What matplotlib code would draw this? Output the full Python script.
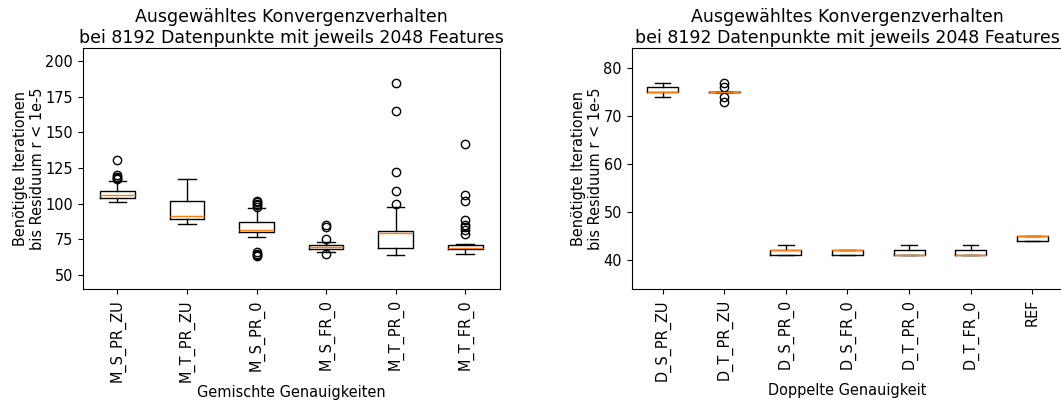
import matplotlib
matplotlib.use("Agg")
import matplotlib.pyplot as plt

plt.rcParams["font.size"] = 10.45

# Gemischte Genauigkeiten
labels_gemischt = ["M_S_PR_ZU", "M_T_PR_ZU", "M_S_PR_0", "M_S_FR_0", "M_T_PR_0", "M_T_FR_0"]
whislo_gemischt = [101, 86, 77, 66, 64, 65]
q1_gemischt = [104, 89, 80, 68.5, 68.7, 68]
med_gemischt = [106, 91.6, 81.8, 70, 79.2, 68.7]
q3_gemischt = [109, 102, 87, 71, 81, 71]
whishi_gemischt = [116, 117, 97, 73, 98, 72]
fliers_gemischt = [
    [117, 118, 119, 120, 131],
    [],
    [98, 99, 100, 101, 102, 63, 64, 65, 66],
    [75, 84, 85, 65],
    [100, 109, 122, 165, 185],
    [79, 81.5, 84, 85, 88.5, 102, 106, 142],
]

# Doppelte Genauigkeit
labels_doppelt = ["D_S_PR_ZU", "D_T_PR_ZU", "D_S_PR_0", "D_S_FR_0", "D_T_PR_0", "D_T_FR_0", "REF"]
whislo_doppelt = [74, 75, 41, 41, 41, 41, 44]
q1_doppelt = [75, 75, 41, 41, 41, 41, 44]
med_doppelt = [75, 75, 42, 42, 41, 41, 45]
q3_doppelt = [76, 75, 42, 42, 42, 42, 45]
whishi_doppelt = [77, 75, 43, 42, 43, 43, 45]
fliers_doppelt = [[], [73, 74, 76, 77], [], [], [], [], []]

TITEL = "Ausgewähltes Konvergenzverhalten\nbei 8192 Datenpunkte mit jeweils 2048 Features"
YLABEL = "Benötigte Iterationen\nbis Residuum r < 1e-5"


def stats(labels, lo, q1, med, q3, hi, fl):
    return [
        {"label": l, "whislo": a, "q1": b, "med": c, "q3": d, "whishi": e, "fliers": f}
        for l, a, b, c, d, e, f in zip(labels, lo, q1, med, q3, hi, fl)
    ]


fig = plt.figure(figsize=(10.61, 4.01), dpi=100)
ax1 = fig.add_axes([0.0779, 0.2786, 0.3933, 0.601])
ax2 = fig.add_axes([0.5954, 0.2786, 0.4067, 0.601])

ax1.bxp(stats(labels_gemischt, whislo_gemischt, q1_gemischt, med_gemischt,
              q3_gemischt, whishi_gemischt, fliers_gemischt))
ax1.set_ylim(40, 209)
ax1.set_title(TITEL, fontsize=12.55, pad=4)
ax1.set_ylabel(YLABEL, labelpad=0)
ax1.set_xlabel("Gemischte Genauigkeiten", labelpad=2)
ax1.tick_params(axis="x", labelrotation=90)

ax2.bxp(stats(labels_doppelt, whislo_doppelt, q1_doppelt, med_doppelt,
              q3_doppelt, whishi_doppelt, fliers_doppelt))
ax2.set_ylim(33.84, 84.17)
ax2.set_title(TITEL, fontsize=12.55, pad=4)
ax2.set_ylabel(YLABEL, labelpad=0)
ax2.set_xlabel("Doppelte Genauigkeit", labelpad=2)
ax2.tick_params(axis="x", labelrotation=90)

fig.savefig("out.png", dpi=100)
